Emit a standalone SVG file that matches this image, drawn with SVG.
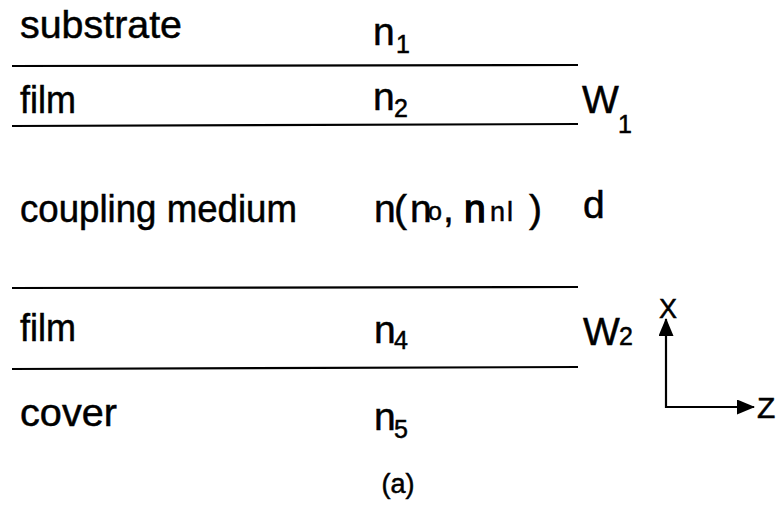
<svg xmlns="http://www.w3.org/2000/svg" width="778" height="519" viewBox="0 0 778 519">
<style>
.t{font-family:"Liberation Sans",Arial,sans-serif;font-size:39px;fill:#000;stroke:#000;stroke-width:0.5}
.s{font-size:25px}
.ln{stroke:#000;stroke-width:2.2;fill:none}
</style>
<defs>
<marker id="ah" markerWidth="18" markerHeight="15" refX="17" refY="7.5" orient="auto" markerUnits="userSpaceOnUse">
<path d="M0,0 L18,7.5 L0,15 Z" fill="#000"/>
</marker>
</defs>
<rect width="778" height="519" fill="#fff"/>
<g id="connectors">
<line class="ln" x1="12" y1="66" x2="578" y2="65"/>
<line class="ln" x1="12" y1="126" x2="578" y2="124"/>
<line class="ln" x1="12" y1="288" x2="578" y2="287"/>
<line class="ln" x1="12" y1="369" x2="578" y2="367"/>
<line class="ln" x1="666" y1="408" x2="666" y2="319" marker-end="url(#ah)"/>
<line class="ln" x1="665" y1="407" x2="754" y2="407" marker-end="url(#ah)"/>
</g>
<g id="substrate"><text class="t" x="20" y="38" textLength="162" lengthAdjust="spacingAndGlyphs">substrate</text><text class="t" x="373" y="45">n<tspan class="s" x="396" y="53">1</tspan></text></g>
<g id="film1"><text class="t" x="20" y="113" textLength="56" lengthAdjust="spacingAndGlyphs">film</text><text class="t" x="373" y="110">n<tspan class="s" x="394" y="117">2</tspan></text><text class="t" x="582" y="113">W<tspan class="s" x="618" y="133">1</tspan></text></g>
<g id="coupling"><text class="t" x="20" y="222" textLength="277" lengthAdjust="spacingAndGlyphs">coupling medium</text>
<text class="t" x="374" y="222">n<tspan x="394">(</tspan><tspan x="410">n</tspan><tspan class="s" x="428" y="220">o</tspan><tspan x="443" y="222">,</tspan><tspan x="464" style="stroke-width:1.4">n</tspan><tspan class="s" x="490" y="221" style="font-size:27px;letter-spacing:2px">nl</tspan><tspan x="529" y="222">)</tspan></text>
<text class="t" x="583" y="218">d</text></g>
<g id="film2"><text class="t" x="20" y="341" textLength="56" lengthAdjust="spacingAndGlyphs">film</text><text class="t" x="374" y="343">n<tspan class="s" x="394" y="349">4</tspan></text><text class="t" x="583" y="345">W<tspan class="s" x="619" y="345">2</tspan></text></g>
<g id="cover"><text class="t" x="20" y="426" textLength="97" lengthAdjust="spacingAndGlyphs">cover</text><text class="t" x="374" y="430">n<tspan class="s" x="394" y="438">5</tspan></text></g>
<g id="axes"><text class="t" x="659" y="318" style="font-size:27px">X</text><text class="t" x="757" y="418" style="font-size:30px">Z</text></g>
<text class="t" x="398" y="493" text-anchor="middle" style="font-size:27px">(a)</text>
</svg>
